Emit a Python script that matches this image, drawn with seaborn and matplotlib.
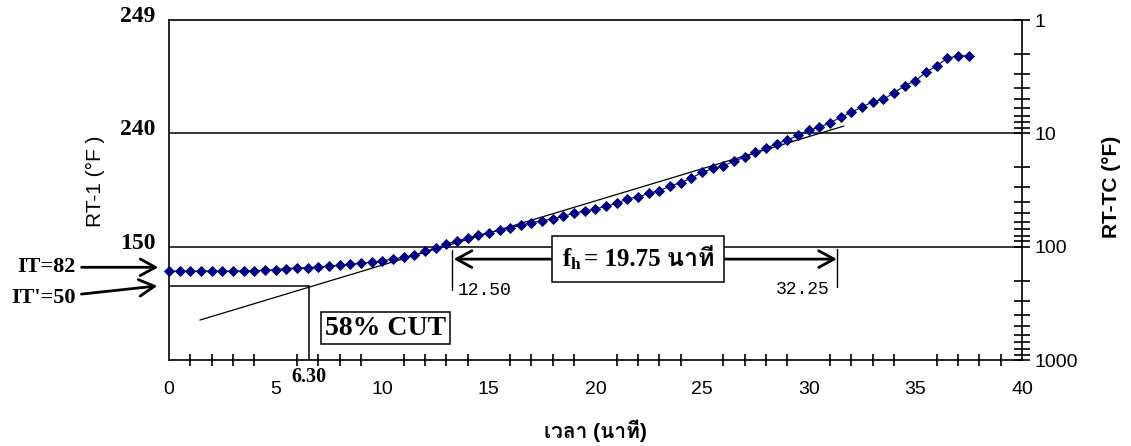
import numpy as np
import pandas as pd
import seaborn as sns
import matplotlib.pyplot as plt
import matplotlib.transforms as mtransforms
from matplotlib import font_manager
from matplotlib.ft2font import FT2Font
from matplotlib.ticker import FixedLocator, FixedFormatter, LogLocator, MultipleLocator, NullFormatter
from matplotlib.offsetbox import TextArea, HPacker, AnnotationBbox

# ---- data ----
time_min = [0, 0.5, 1, 1.5, 2, 2.5, 3, 3.5, 4, 4.5, 5, 5.5, 6, 6.5, 7, 7.5, 8, 8.5, 9, 9.5,
            10, 10.5, 11, 11.5, 12, 12.5, 13, 13.5, 14, 14.5, 15, 15.5, 16, 16.5, 17, 17.5,
            18, 18.5, 19, 19.5, 20, 20.5, 21, 21.5, 22, 22.5, 23, 23.5, 24, 24.5, 25, 25.5,
            26, 26.5, 27, 27.5, 28, 28.5, 29, 29.5, 30, 30.5, 31, 31.5, 32, 32.5, 33, 33.5,
            34, 34.5, 35, 35.5, 36, 36.5, 37, 37.5]
rt_minus_tc = [164, 164, 164, 164, 164, 164, 164, 163, 163, 161, 159, 156, 154, 153, 151, 149,
               146, 143, 140, 137, 133, 129, 124, 119, 110, 103, 95.5, 88.7, 84.5, 79, 75.4, 71.3,
               68, 64.9, 61.5, 59, 56.7, 53.7, 50.8, 48.2, 46.6, 43.8, 41.5, 37.8, 36.3, 33.9,
               32.1, 29.2, 27.2, 24.8, 22.1, 20.4, 19.4, 17.5, 16.3, 14.7, 13.6, 12.3, 11.5, 10.4,
               9.35, 8.85, 8.06, 7.22, 6.53, 5.82, 5.29, 5.01, 4.38, 3.80, 3.43, 2.89, 2.53, 2.18,
               2.07, 2.07]

right_ticks = [1, 10, 100, 1000]
right_labels = ["1", "10", "100", "1000"]
left_ticks = [1, 10, 100]
left_labels = ["249", "240", "150"]
x_ticks = [0, 5, 10, 15, 20, 25, 30, 35, 40]

# straight-line fit drawn on the chart
fit_time = [1.45, 31.65]
fit_diff = [444, 8.62]

it_arrow_level = 152      # IT=82 arrow
it_prime_level = 222      # IT'=50 line
cut_time = 6.56           # 58% cut line (6.30)
fh_left, fh_right = 13.35, 31.32
fh_level = 128.7


def thai_fonts():
    names = []
    for entry in font_manager.fontManager.ttflist:
        try:
            if 0x0E19 in FT2Font(entry.fname).get_charmap() and entry.name not in names:
                names.append(entry.name)
        except Exception:
            continue
    return names


sns.set_style("white")
thai = thai_fonts()
thai_pick = ["Loma"] if "Loma" in thai else thai[:1]
plt.rcParams["font.family"] = ["Liberation Sans"] + thai_pick + ["DejaVu Sans"]
plt.rcParams["mathtext.fontset"] = "custom"
plt.rcParams["mathtext.rm"] = "Liberation Serif"
plt.rcParams["mathtext.bf"] = "Liberation Serif:bold"
for key in ["text.color", "axes.labelcolor", "xtick.color", "ytick.color", "axes.edgecolor"]:
    plt.rcParams[key] = "black"

serif = ["Liberation Serif"] + thai_pick + ["DejaVu Serif"]
sans = ["Liberation Sans"] + thai_pick + ["DejaVu Sans"]
navy = "#000080"

fig = plt.figure(figsize=(11.31, 4.46), dpi=100)
ax = fig.add_axes([0.1494, 0.1928, 0.7542, 0.7623])

df = pd.DataFrame({"time": time_min, "diff": rt_minus_tc})
sns.lineplot(data=df, x="time", y="diff", ax=ax, color=navy, linewidth=0.8,
             marker="D", markersize=5.4, markeredgecolor=navy, markeredgewidth=0.6,
             clip_on=False, zorder=5)

ax.set_yscale("log")
ax.set_ylim(1000, 1)
ax.set_xlim(0, 40)
ax.set_xlabel("")
ax.set_ylabel("")

for v in [10, 100]:
    ax.axhline(v, color="black", lw=1.1, zorder=1)

# right log axis
ax.yaxis.tick_right()
ax.yaxis.set_major_locator(FixedLocator(right_ticks))
ax.yaxis.set_major_formatter(FixedFormatter(right_labels))
ax.yaxis.set_minor_locator(LogLocator(base=10, subs=np.arange(2, 10)))
ax.yaxis.set_minor_formatter(NullFormatter())
ax.tick_params(axis="y", which="both", direction="inout", length=12, width=1.2,
               left=False, right=True, labelsize=14, pad=3, colors="black")

ax.xaxis.set_major_locator(FixedLocator(x_ticks))
ax.xaxis.set_minor_locator(MultipleLocator(1))
ax.tick_params(axis="x", which="major", direction="inout", length=12, width=1.4,
               labelsize=14, pad=9, colors="black")
ax.tick_params(axis="x", which="minor", direction="inout", length=8, width=1.2,
               bottom=True, colors="black")

for sp in ax.spines.values():
    sp.set_color("black")
    sp.set_linewidth(1.2)

# left labels (RT - difference)
for v, lab in zip(left_ticks, left_labels):
    ax.annotate(lab, xy=(0, v), xycoords=("axes fraction", "data"),
                xytext=(-9.5, 2.5), textcoords="offset points", ha="right", va="center",
                fontsize=17, fontweight="bold", family=serif, annotation_clip=False)

ax.text(-0.086, 0.526, "RT-1 (°F )", transform=ax.transAxes, rotation=90,
        ha="center", va="center", fontsize=15, family=sans)
ax.text(1.1055, 0.509, "RT-TC (°F)", transform=ax.transAxes, rotation=90,
        ha="center", va="center", fontsize=15, fontweight="bold", family=sans)
ax.text(0.5, -0.209, "เวลา (นาที)", transform=ax.transAxes, ha="center", va="center",
        fontsize=15, fontweight="bold", family=sans)

# fitted line and 58% cut construction
ax.plot(fit_time, fit_diff, color="black", lw=0.9, zorder=4)
ax.plot([0, cut_time], [it_prime_level, it_prime_level], color="black", lw=1.1, zorder=4)
ax.plot([cut_time, cut_time], [1000, it_prime_level], color="black", lw=1.1, zorder=4)

blend = mtransforms.blended_transform_factory(ax.transData, ax.transAxes)
ax.text(cut_time, -0.05, "6.30", transform=blend, ha="center", va="center",
        fontsize=14.5, fontweight="bold", family=serif)
ax.text(10.15, 523, "58% CUT", ha="center", va="center", fontsize=20, fontweight="bold",
        family=serif, zorder=6,
        bbox=dict(boxstyle="square,pad=0.14", fc="white", ec="black", lw=1.1))

# IT arrows
arrow = dict(arrowstyle="->,head_length=0.55,head_width=0.3", lw=2, color="black",
             shrinkA=2, shrinkB=0, mutation_scale=20)
ax.annotate("IT=82", xy=(-0.5, it_arrow_level), xytext=(-5.75, it_arrow_level),
            ha="center", va="center", fontsize=16, fontweight="bold", family=serif,
            arrowprops=arrow, annotation_clip=False)
ax.annotate("IT'=50", xy=(-0.55, it_prime_level), xytext=(-5.9, 285),
            ha="center", va="center", fontsize=16, fontweight="bold", family=serif,
            arrowprops=arrow, annotation_clip=False)

# f_h span
fh_mid = (fh_left + fh_right) / 2
for end in [fh_left, fh_right]:
    ax.annotate("", xy=(end, fh_level), xytext=(fh_mid, fh_level),
                arrowprops=dict(arrowstyle="->,head_length=0.55,head_width=0.3", lw=2,
                                color="black", shrinkA=0, shrinkB=0, mutation_scale=20),
                zorder=5)
ax.plot([fh_left - 0.07, fh_left - 0.07], [107, 242], color="black", lw=1, zorder=5)
ax.plot([fh_right, fh_right], [105, 227], color="black", lw=1, zorder=5)
ax.text(fh_left + 0.2, 242, "12.50", ha="left", va="center", fontsize=13,
        family="Liberation Mono")
ax.text(fh_right - 0.35, 239, "32.25", ha="right", va="center", fontsize=13,
        family="Liberation Mono")

box_text = HPacker(children=[
    TextArea(r"$\mathbf{f_h}$", textprops=dict(fontsize=18)),
    TextArea("= 19.75 นาที", textprops=dict(fontsize=18, fontweight="bold", family=serif)),
], align="baseline", pad=0, sep=1)
ab = AnnotationBbox(box_text, (22.0, fh_level), xycoords="data", frameon=True,
                    bboxprops=dict(boxstyle="square,pad=0.75", fc="white", ec="black", lw=1.1),
                    zorder=7)
ax.add_artist(ab)

fig.savefig("out.png", dpi=100)
